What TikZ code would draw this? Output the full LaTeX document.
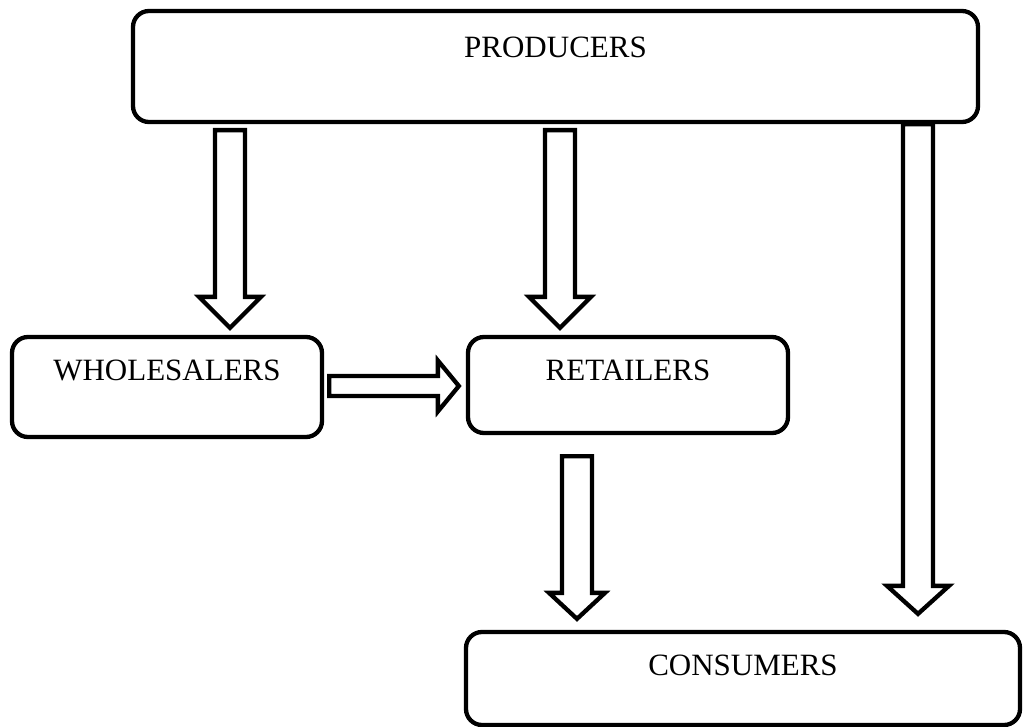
\documentclass[tikz,border=0pt]{standalone}
\usepackage{fontspec}
\setmainfont{Liberation Serif}
\usetikzlibrary{calc}
\tikzset{
  box/.style={draw=black, line width=4.3pt, rounded corners=16pt, fill=none, inner sep=0pt},
  lbl/.style={font=\fontsize{31}{37}\selectfont, inner sep=0pt, text=black},
  blockarrow/.style={draw=black, line width=4.3pt, line join=miter, miter limit=10}
}
\newcommand{\vbarrow}[7]{% #1 x coord, #2 from node, #3 to node, #4 gap top, #5 gap bottom, #6 head half width, #7 head length
  \draw[blockarrow] let \p1=(#1), \p2=(#2.south), \p3=(#3.north) in
   (\x1-15pt,\y2-#4) -- (\x1-15pt,\y3+#5+#7) -- (\x1-#6,\y3+#5+#7) -- (\x1,\y3+#5)
   -- (\x1+#6,\y3+#5+#7) -- (\x1+15pt,\y3+#5+#7) -- (\x1+15pt,\y2-#4) -- cycle;}
\begin{document}
\begin{tikzpicture}[x=1pt,y=-1pt]
\useasboundingbox (0,0) rectangle (1025,727);
% boxes
\node[box, minimum width=845pt, minimum height=111pt] (prod) at (555.5,66.5) {};
\node[box, minimum width=310pt, minimum height=100pt] (wh) at (167,387) {};
\node[box, minimum width=320pt, minimum height=96pt] (ret) at (628,385) {};
\node[box, minimum width=554pt, minimum height=93pt] (cons) at (743,678.5) {};
% labels
\node[lbl] (tprod) at ([yshift=-39pt]prod.north) {PRODUCERS};
\node[lbl] (twh) at ([yshift=-36pt]wh.north) {WHOLESALERS};
\node[lbl] (tret) at ([yshift=-36pt]ret.north) {RETAILERS};
\node[lbl] (tcons) at ([yshift=-36pt]cons.north) {CONSUMERS};
% arrow axes
\coordinate (c1) at (230,0);
\coordinate (c2) at (560,0);
\coordinate (c3) at (918,0);
\coordinate (c4) at (577,0);
\coordinate (c5) at (0,386);
% vertical block arrows
\vbarrow{c1}{prod}{wh}{6pt}{7pt}{31pt}{31pt}
\vbarrow{c2}{prod}{ret}{6pt}{7pt}{31pt}{31pt}
\vbarrow{c3}{prod}{cons}{0pt}{16pt}{31pt}{28pt}
\vbarrow{c4}{ret}{cons}{21pt}{11pt}{28pt}{26pt}
% horizontal block arrow
\draw[blockarrow] let \p1=(c5), \p2=(wh.east), \p3=(ret.west) in
  (\x2+5pt,\y1-10pt) -- (\x3-7pt-21pt,\y1-10pt) -- (\x3-7pt-21pt,\y1-25.5pt) -- (\x3-7pt,\y1)
  -- (\x3-7pt-21pt,\y1+25.5pt) -- (\x3-7pt-21pt,\y1+10pt) -- (\x2+5pt,\y1+10pt) -- cycle;
\end{tikzpicture}
\end{document}
